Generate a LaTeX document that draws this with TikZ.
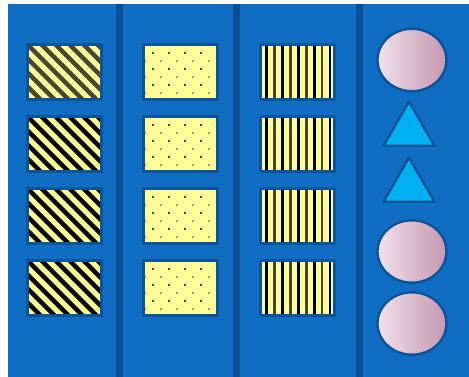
\documentclass[tikz,border=0pt]{standalone}
\definecolor{bgblue}{RGB}{16,109,196}
\definecolor{divblue}{RGB}{11,78,146}
\definecolor{edgeblue}{RGB}{12,84,152}
\definecolor{yel}{RGB}{255,255,153}
\definecolor{tri}{RGB}{0,176,240}
\definecolor{pinkL}{RGB}{240,226,234}
\definecolor{pinkR}{RGB}{198,150,178}
\definecolor{greyline}{RGB}{70,70,50}
\definecolor{greydot}{RGB}{120,120,90}
\tikzset{
  boxedge/.style={draw=edgeblue,line width=2.6pt},
  shapeedge/.style={draw=edgeblue,line width=2.4pt,line join=round},
}
\newcommand{\boxpath}[2]{(#1+1.3,#2+1.3) rectangle (#1+75.7,#2+56.7)}
\begin{document}
\begin{tikzpicture}[x=1pt,y=-1pt]
\useasboundingbox (0,0) rectangle (469,377);
\fill[white] (0,0) rectangle (469,377);
\fill[bgblue] (8,4) rectangle (469,377);
\foreach \x in {116,233,356} \fill[divblue] (\x,4) rectangle ++(7,373);
% column 1: diagonal stripes
\foreach \y/\c in {43/greyline,115/black,187/black,259/black}{
  \begin{scope}
    \clip \boxpath{26}{\y};
    \fill[yel] \boxpath{26}{\y};
    \foreach \k in {-7,...,6}
      \draw[\c,line width=4.3pt] (26+\k*14,\y) -- ++(80,80);
  \end{scope}
  \draw[boxedge] \boxpath{26}{\y};
}
% column 2: dots
\foreach \y in {43,115,187,259}{
  \begin{scope}
    \clip \boxpath{142}{\y};
    \fill[yel] \boxpath{142}{\y};
    \foreach \m in {0,...,3}{
      \foreach \i in {0,...,4}{
        \fill[black] (142+11+16*\i,\y+10+16*\m) circle (1.1);
        \fill[greydot] (142+3+16*\i,\y+2+16*\m) circle (1.2);
      }
    }
  \end{scope}
  \draw[boxedge] \boxpath{142}{\y};
}
% column 3: vertical lines
\foreach \y in {43,115,187,259}{
  \begin{scope}
    \clip \boxpath{259}{\y};
    \fill[yel] \boxpath{259}{\y};
    \foreach \k in {0,...,8}{
      \pgfmathsetmacro{\xx}{259+7.8+7.9*\k}
      \pgfmathtruncatemacro{\odd}{mod(\k,2)}
      \ifnum\odd=0
        \draw[black,line width=2.7pt] (\xx,\y) -- ++(0,58);
      \else
        \draw[greyline,line width=2.7pt] (\xx,\y) -- ++(0,58);
      \fi
    }
  \end{scope}
  \draw[boxedge] \boxpath{259}{\y};
}
% column 4: ellipses and triangles
\foreach \cy in {60,251.5,323.5}{
  \shade[left color=pinkL,right color=pinkR] (412,\cy) ellipse [x radius=34.5,y radius=31.2];
  \draw[shapeedge] (412,\cy) ellipse [x radius=34.5,y radius=31.2];
}
\foreach \ty in {100,156}{
  \filldraw[fill=tri,shapeedge] (409,\ty+1.5) -- (383.5,\ty+45.8) -- (434.5,\ty+45.8) -- cycle;
}
\end{tikzpicture}
\end{document}
